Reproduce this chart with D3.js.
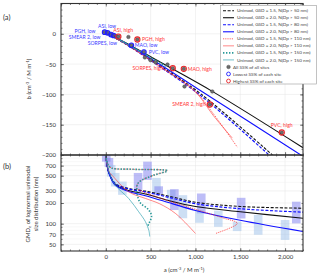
<!DOCTYPE html>
<html>
<head>
<meta charset="utf-8">
<script src="https://cdn.jsdelivr.net/npm/d3@7"></script>
<style>
  body { margin: 0; background: #fff; }
  svg { display: block; font-family: Lato, "Open Sans", sans-serif; }
</style>
</head>
<body>
<svg id="vis" width="320" height="278"></svg>
<script>
// ---- values ----
var aTicks = [0, 500, 1000, 1500, 2000];
var bTicks = [0, -50, -100, -150, -200];
var gmdTicks = [50, 70, 100, 200, 300, 500, 700];

var seriesNames = [
  'Unimod, GSD = 1.5, N(Dp > 50 nm)',
  'Unimod, GSD = 2.0, N(Dp > 50 nm)',
  'Unimod, GSD = 1.5, N(Dp > 80 nm)',
  'Unimod, GSD = 2.0, N(Dp > 80 nm)',
  'Unimod, GSD = 1.5, N(Dp > 110 nm)',
  'Unimod, GSD = 2.0, N(Dp > 110 nm)',
  'Unimod, GSD = 1.5, N(Dp > 150 nm)',
  'Unimod, GSD = 2.0, N(Dp > 150 nm)'
];

// panel (a): [a, b]
var abN50s15 = [[-20, 3], [200, -15], [610, -53], [1059, -99], [1859, -200]];
var abN50s20 = [[-20, 3], [200, -13], [610, -47], [1188, -95], [2200, -188]];
var abN80s15 = [[-20, 3], [200, -15], [610, -55], [1059, -102], [1821, -200]];
var abN80s20 = [[-20, 3], [200, -14], [610, -51], [1059, -94], [2176, -200]];
var abN110s15 = [[-20, 3], [200, -15], [610, -55], [1000, -95], [1200, -132], [1467, -187]];
var abN110s20 = [[-20, 3], [200, -15], [610, -54], [1000, -96], [1200, -135], [1411, -172]];
var abN150s15 = [[-20, 3], [200, -14], [685, -55]];
var abN150s20 = [[-20, 3], [200, -14], [490, -38]];

// panel (b): [a, GMD nm]
var gmdN50s15 = [[0, 1000], [15, 700], [31, 567], [106, 384], [255, 325], [442, 298], [740, 245], [1000, 205], [1500, 178], [2200, 168]];
var gmdN50s20 = [[0, 1000], [15, 700], [35, 550], [106, 370], [255, 305], [442, 270], [740, 210], [1000, 178], [1500, 149], [2200, 120]];
var gmdN80s15 = [[0, 1000], [15, 700], [35, 560], [106, 380], [255, 320], [442, 290], [740, 235], [1000, 195], [1500, 165], [2200, 147]];
var gmdN80s20 = [[0, 1000], [15, 700], [35, 540], [106, 360], [255, 295], [442, 255], [740, 196], [1000, 156], [1500, 112], [2200, 77]];
var gmdN110s15 = [[0, 1000], [20, 740], [60, 650], [300, 620], [685, 590], [520, 500], [367, 400], [345, 330], [450, 280], [700, 215], [1000, 162], [1300, 122], [1467, 101], [1225, 72]];
var gmdN110s20 = [[0, 1000], [15, 700], [40, 560], [69, 508], [255, 291], [442, 233], [600, 195], [780, 140], [1000, 72]];
var gmdN150s15 = [[0, 1000], [20, 740], [60, 650], [300, 620], [685, 590], [520, 500], [367, 400], [345, 330], [380, 205], [470, 163], [510, 130], [480, 100], [460, 88]];
var gmdN150s20 = [[0, 1000], [30, 600], [106, 364], [255, 233], [367, 149], [442, 107], [480, 80], [490, 65]];

var abSeries = [abN50s15, abN50s20, abN80s15, abN80s20, abN110s15, abN110s20, abN150s15, abN150s20];
var gmdSeries = [gmdN50s15, gmdN50s20, gmdN80s15, gmdN80s20, gmdN110s15, gmdN110s20, gmdN150s15, gmdN150s20];

// measured points, panel (a)
var allA = [-13, 20, 58, 87, 118, 140, 252, 352, 285, 425, 436, 498, 554, 688, 747, 870, 878, 1161, 1188, 1963];
var allB = [2.6, 1.6, -1.2, -2.8, -4, -4.5, -5.3, -9.4, -19, -30, -39, -43.6, -47, -50.7, -56.8, -57.8, -87, -116.7, -95.2, -162.9];

var sites = ['ASI', 'PGH', 'SMEAR 2', 'SORPES', 'MAO', 'PVC'];
var lowA = [-13, 20, 58, 87, 285, 425];
var lowB = [2.6, 1.6, -1.2, -2.8, -19, -30];
var highA = [140, 352, 1161, 747, 870, 1963];
var highB = [-4.5, -9.4, -116.7, -56.8, -57.8, -162.9];

// GMD ranges, panel (b)
var boxA = [5, 35, 60, 105, 185, 360, 465, 565, 590, 730, 765, 860, 1065, 1045, 1255, 1510, 1465, 1700, 2000, 2125];
var boxHi = [1000, 905, 716, 548, 410, 548, 800, 464, 350, 311, 318, 260, 275, 158, 155, 238, 107, 134, 113, 209];
var boxLo = [800, 670, 485, 348, 263, 311, 434, 279, 260, 209, 158, 120, 141, 103, 90, 119, 78, 69, 58, 101];
var boxKind = ['p', 'p', 'l', 'l', 'l', 'p', 'p', 'l', 'p', 'l', 'p', 'l', 'p', 'l', 'l', 'p', 'l', 'l', 'l', 'p'];

// ---- styling / layout ----
var seriesStyle = [
  { color: '#111', width: 1.1, dash: '3,1.6' },
  { color: '#111', width: 1.1, dash: null },
  { color: '#1010ff', width: 1.2, dash: '3,1.6' },
  { color: '#1010ff', width: 1.1, dash: null },
  { color: '#ff2020', width: 0.7, dash: '1.2,1' },
  { color: '#ff3535', width: 0.6, dash: null },
  { color: '#2a9a9a', width: 1.6, dash: '1.4,1.6' },
  { color: '#3aa6b4', width: 0.7, dash: null }
];

// label offsets from each marker: [dx, dy, anchor]
var lowLabelPos = [[2.4, -6.3, 'middle'], [-12, -1.8, 'end'], [-10.5, 2.4, 'end'], [3.4, 7.9, 'end'], [3.5, 0, 'start'], [4.8, 0, 'start']];
var highLabelPos = [[-5, -6.7, 'start'], [4.7, 0, 'start'], [-4.3, 0, 'end'], [-9.4, 0, 'end'], [4, 0, 'start'], [0, -7.7, 'middle']];

var left = 61, right = 303, topA = 3.5, midY = 155, bottomB = 251;

var x = d3.scaleLinear().domain([-500, 2200]).range([left, right]);
var yA = d3.scaleLinear().domain([-200, 50]).range([midY, topA]);
var yB = d3.scaleLog().domain([40, 1000]).range([bottomB, midY]);

var svg = d3.select('#vis');
var defs = svg.append('defs');
defs.append('clipPath').attr('id', 'clipA').append('rect')
  .attr('x', left).attr('y', topA).attr('width', right - left).attr('height', midY - topA);
defs.append('clipPath').attr('id', 'clipB').append('rect')
  .attr('x', left).attr('y', midY).attr('width', right - left).attr('height', bottomB - midY);

var minorA = d3.range(-500, 2201, 100);
var minorB = d3.range(-200, 51, 10);
var minorG = [];
[10, 100, 1000].forEach(function (d) { d3.range(1, 10).forEach(function (k) { var v = d * k; if (v >= 40 && v <= 1000) minorG.push(v); }); });

// grids
var grid = svg.append('g').attr('stroke', '#e4e4e4').attr('stroke-width', 0.5);
grid.selectAll('.gxa').data(aTicks).enter().append('line')
  .attr('x1', x).attr('x2', x).attr('y1', topA).attr('y2', bottomB);
grid.selectAll('.gya').data(bTicks).enter().append('line')
  .attr('x1', left).attr('x2', right).attr('y1', yA).attr('y2', yA);
grid.selectAll('.gyb').data(minorG).enter().append('line')
  .attr('x1', left).attr('x2', right).attr('y1', yB).attr('y2', yB)
  .attr('stroke', function (d) { return gmdTicks.indexOf(d) >= 0 ? '#e4e4e4' : '#f1f1f1'; });

// panel (b) boxes
var pB = svg.append('g').attr('clip-path', 'url(#clipB)');
pB.selectAll('rect.box').data(boxA).enter().append('rect')
  .attr('class', 'box')
  .attr('x', function (d) { return x(d) - 4.3; })
  .attr('width', 8.6)
  .attr('y', function (d, i) { return yB(boxHi[i]); })
  .attr('height', function (d, i) { return yB(boxLo[i]) - yB(boxHi[i]); })
  .attr('fill', function (d, i) { return boxKind[i] === 'p' ? '#7b7bf0' : '#9cc0ea'; })
  .attr('fill-opacity', 0.5);

var lineA = d3.line().x(function (d) { return x(d[0]); }).y(function (d) { return yA(d[1]); }).curve(d3.curveCatmullRom.alpha(0.5));
var lineB = d3.line().x(function (d) { return x(d[0]); }).y(function (d) { return yB(d[1]); }).curve(d3.curveCatmullRom.alpha(0.5));

var pA = svg.append('g').attr('clip-path', 'url(#clipA)');
function drawSeries(g, data, gen) {
  g.selectAll('path.series').data(data).enter().append('path')
    .attr('class', 'series')
    .attr('d', gen)
    .attr('fill', 'none')
    .attr('stroke', function (d, i) { return seriesStyle[i].color; })
    .attr('stroke-width', function (d, i) { return seriesStyle[i].width; })
    .attr('stroke-dasharray', function (d, i) { return seriesStyle[i].dash; });
}
drawSeries(pA, abSeries, lineA);
drawSeries(pB, gmdSeries, lineB);

// points
pA.selectAll('circle.all').data(allA).enter().append('circle')
  .attr('cx', function (d) { return x(d); })
  .attr('cy', function (d, i) { return yA(allB[i]); })
  .attr('r', 1.8).attr('fill', '#6d6d6d').attr('stroke', '#333').attr('stroke-width', 0.4);
pA.selectAll('circle.low').data(lowA).enter().append('circle')
  .attr('cx', function (d) { return x(d); })
  .attr('cy', function (d, i) { return yA(lowB[i]); })
  .attr('r', 2.3).attr('fill', 'none').attr('stroke', '#2020ff').attr('stroke-width', 1.1);
pA.selectAll('circle.high').data(highA).enter().append('circle')
  .attr('cx', function (d) { return x(d); })
  .attr('cy', function (d, i) { return yA(highB[i]); })
  .attr('r', 2.6).attr('fill', 'none').attr('stroke', '#e8262a').attr('stroke-width', 1.1);

// site labels
var lab = svg.append('g').attr('font-size', 5.1);
sites.forEach(function (s, i) {
  lab.append('text')
    .attr('x', x(lowA[i]) + lowLabelPos[i][0]).attr('y', yA(lowB[i]) + lowLabelPos[i][1])
    .attr('dy', '0.35em').attr('text-anchor', lowLabelPos[i][2])
    .attr('fill', '#3a3aff').text(s + ', low');
  lab.append('text')
    .attr('x', x(highA[i]) + highLabelPos[i][0]).attr('y', yA(highB[i]) + highLabelPos[i][1])
    .attr('dy', '0.35em').attr('text-anchor', highLabelPos[i][2])
    .attr('fill', '#ff3535').text(s + ', high');
});

// axes
function axisG(axis, tx, ty) {
  var g = svg.append('g').attr('transform', 'translate(' + tx + ',' + ty + ')').call(axis);
  g.select('.domain').remove();
  g.selectAll('line').attr('stroke', '#333').attr('stroke-width', 0.6);
  g.selectAll('text').attr('font-family', 'Lato, "Open Sans", sans-serif').attr('font-size', 6).attr('fill', '#333');
  return g;
}
var noLabel = function () { return ''; };
// panel (a)
axisG(d3.axisLeft(yA).tickValues(bTicks).tickSize(-3).tickPadding(5), left, 0);
axisG(d3.axisLeft(yA).tickValues(minorB).tickSize(-1.5).tickFormat(noLabel), left, 0);
axisG(d3.axisRight(yA).tickValues(minorB).tickSize(-1.5).tickFormat(noLabel), right, 0);
axisG(d3.axisRight(yA).tickValues(bTicks.concat([50])).tickSize(-3).tickFormat(noLabel), right, 0);
[topA, midY].forEach(function (yy, k) {
  var mk = k === 0 ? d3.axisTop : d3.axisBottom;
  axisG(mk(x).tickValues(aTicks.concat([-500])).tickSize(-3).tickFormat(noLabel), 0, yy);
  axisG(mk(x).tickValues(minorA).tickSize(-1.5).tickFormat(noLabel), 0, yy);
});
// panel (b)
axisG(d3.axisLeft(yB).tickValues(gmdTicks).tickSize(-3).tickPadding(5).tickFormat(d3.format('d')), left, 0);
axisG(d3.axisLeft(yB).tickValues(minorG).tickSize(-1.5).tickFormat(noLabel), left, 0);
axisG(d3.axisRight(yB).tickValues(minorG).tickSize(-1.5).tickFormat(noLabel), right, 0);
axisG(d3.axisTop(x).tickValues(aTicks).tickSize(-3).tickFormat(noLabel), 0, midY);
axisG(d3.axisTop(x).tickValues(minorA).tickSize(-1.5).tickFormat(noLabel), 0, midY);
axisG(d3.axisBottom(x).tickValues(aTicks).tickSize(-3).tickPadding(4), 0, bottomB);
axisG(d3.axisBottom(x).tickValues(minorA).tickSize(-1.5).tickFormat(noLabel), 0, bottomB);

// frames
svg.append('rect').attr('x', left).attr('y', topA).attr('width', right - left).attr('height', midY - topA)
  .attr('fill', 'none').attr('stroke', '#333').attr('stroke-width', 1.1);
svg.append('rect').attr('x', left).attr('y', midY).attr('width', right - left).attr('height', bottomB - midY)
  .attr('fill', 'none').attr('stroke', '#333').attr('stroke-width', 1.1);

// axis titles
function unitText(t, fs) {
  t.append('tspan').text('(cm');
  t.append('tspan').attr('dy', -2).attr('font-size', fs * 0.65).text('-3');
  t.append('tspan').attr('dy', 2).text(' / M m');
  t.append('tspan').attr('dy', -2).attr('font-size', fs * 0.65).text('-1');
  t.append('tspan').attr('dy', 2).text(')');
}
var tb = svg.append('text').attr('transform', 'translate(31,79) rotate(-90)')
  .attr('text-anchor', 'middle').attr('font-size', 6).attr('fill', '#333');
tb.append('tspan').text('b ');
unitText(tb, 6);
var ta = svg.append('text').attr('x', 184).attr('y', 272)
  .attr('text-anchor', 'middle').attr('font-size', 6).attr('fill', '#333');
ta.append('tspan').text('a ');
unitText(ta, 6);

var tg = svg.append('text').attr('transform', 'translate(30,204) rotate(-90)')
  .attr('text-anchor', 'middle').attr('font-size', 6).attr('fill', '#333');
tg.append('tspan').text('GMD');
tg.append('tspan').attr('dy', 1.3).attr('font-size', 4).text('e');
tg.append('tspan').attr('dy', -1.3).text(' of  lognormal unimodal');
svg.append('text').attr('transform', 'translate(38,204) rotate(-90)')
  .attr('text-anchor', 'middle').attr('font-size', 6).attr('fill', '#333')
  .text('size distribution (nm)');

svg.append('text').attr('x', 3).attr('y', 19.5).attr('font-size', 7.5).attr('fill', '#333').text('(a)');
svg.append('text').attr('x', 3).attr('y', 169).attr('font-size', 7.5).attr('fill', '#333').text('(b)');

// legend
var leg = svg.append('g');
leg.append('rect').attr('x', 220.5).attr('y', 5.5).attr('width', 96).attr('height', 78.5)
  .attr('fill', '#fff').attr('stroke', '#999').attr('stroke-width', 0.6);
var rowY = function (i) { return 10.7 + i * 7.03; };
seriesNames.forEach(function (n, i) {
  leg.append('line').attr('x1', 223).attr('x2', 234).attr('y1', rowY(i)).attr('y2', rowY(i))
    .attr('stroke', seriesStyle[i].color).attr('stroke-width', seriesStyle[i].width)
    .attr('stroke-dasharray', seriesStyle[i].dash);
  leg.append('text').attr('x', 237).attr('y', rowY(i)).attr('dy', '0.35em')
    .attr('font-size', 4.6).attr('fill', '#444').text(n);
});
var markerRows = [
  { label: 'All SS% of all sites', fill: '#6d6d6d', stroke: '#333', sw: 0.4, r: 1.8 },
  { label: 'Lowest SS% of each site', fill: 'none', stroke: '#2020ff', sw: 0.9, r: 1.9 },
  { label: 'Highest SS% of each site', fill: 'none', stroke: '#e8262a', sw: 0.9, r: 1.9 }
];
markerRows.forEach(function (m, k) {
  var yy = rowY(8 + k);
  leg.append('circle').attr('cx', 228.5).attr('cy', yy).attr('r', m.r)
    .attr('fill', m.fill).attr('stroke', m.stroke).attr('stroke-width', m.sw);
  leg.append('text').attr('x', 233).attr('y', yy).attr('dy', '0.35em')
    .attr('font-size', 4.6).attr('fill', '#444').text(m.label);
});
</script>
</body>
</html>
